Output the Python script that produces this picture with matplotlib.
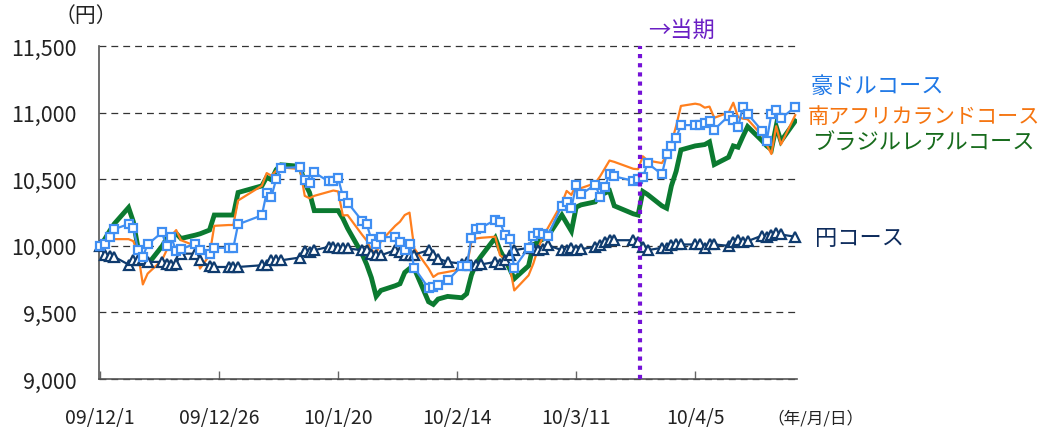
import matplotlib
matplotlib.use('Agg')
import matplotlib.pyplot as plt
import pandas as pd

plt.rcParams['font.family'] = ['Noto Sans CJK JP', 'DejaVu Sans']

# ---------------- data ----------------
days_2009_12 = [1, 2, 3, 4, 7, 8, 9, 10, 11, 14, 15, 16, 17, 18, 21, 22, 24, 25, 28, 29, 30]
days_2010_01 = [4, 5, 6, 7, 8, 12, 13, 14, 15, 18, 19, 20, 21, 22, 25, 26, 27, 28, 29]
days_2010_02 = [1, 2, 3, 4, 5, 8, 9, 10, 12, 15, 16, 17, 18, 19, 22, 23, 24, 25, 26]
days_2010_03 = [1, 2, 3, 4, 5, 8, 9, 10, 11, 12, 15, 16, 17, 18, 19, 23, 24, 25, 26, 29, 30, 31]
days_2010_04 = [1, 2, 5, 6, 7, 8, 9, 12, 13, 14, 15, 16, 19, 20, 21, 22, 23, 26]

aud_course = [
    10000, 10010, 10063, 10125, 10163, 10131, 9972, 9919, 10010, 10100, 9995, 10063, 9959, 9974, 10017, 9967, 9942, 9985, 9985, 9985, 10161,
    10229, 10400, 10370, 10501, 10584, 10591, 10491, 10470, 10551, 10483, 10483, 10508, 10374, 10325, 10189, 10163, 10048, 10017, 10063,
    10068, 10030, 9967, 10017, 9834, 9683, 9693, 9703, 9740, 9849, 9849, 10055, 10123, 10136, 10193, 10181, 10080, 10050, 9834,
    9985, 10075, 10093, 10085, 10075, 10302, 10327, 10282, 10458, 10387, 10458, 10370, 10438, 10538, 10521, 10488, 10500, 10513, 10621, 10536, 10686, 10747,
    10810, 10906, 10906, 10906, 10923, 10935, 10873, 10974, 10948, 10891, 11042, 10991, 10865, 10785, 10991, 11016, 10956, 11042,
]
zar_course = [
    10000, 10030, 10050, 10050, 10050, 10035, 9942, 9710, 9791, 9891, 9967, 10076, 10118, 10042, 10000, 9829, 9929, 10150, 10156, 10156, 10340,
    10451, 10546, 10526, 10564, 10589, 10576, 10375, 10357, 10375, 10405, 10415, 10408, 10228, 10230, 10085, 10040, 9967, 9942, 10035,
    10150, 10181, 10231, 10249, 9980, 9830, 9766, 9791, 9804, 9825, 9841, 10030, 10055, 10060, 10068, 9929, 9904, 9854, 9665,
    9778, 9866, 9980, 10068, 10130, 10319, 10412, 10382, 10463, 10433, 10470, 10520, 10580, 10640, 10630, 10578, 10575, 10672, 10640, 10621, 10680, 10772,
    10900, 11050, 11067, 11060, 11037, 11045, 10961, 11000, 11074, 10966, 10955, 10950, 10830, 10760, 10689, 10898, 10760, 10981,
]
brl_course = [
    10000, 10050, 10110, 10165, 10287, 10181, 9980, 9879, 9859, 9995, 10055, 10075, 10093, 10055, 10080, 10090, 10118, 10231, 10231, 10231, 10400,
    10450, 10515, 10495, 10571, 10608, 10597, 10470, 10400, 10264, 10264, 10264, 10264, 10206, 10131, 9942, 9860, 9760, 9620, 9665,
    9700, 9715, 9800, 9829, 9829, 9580, 9560, 9600, 9620, 9610, 9640, 9780, 9870, 9920, 10060, 9967, 9900, 9830, 9753,
    9850, 10005, 10030, 10050, 10068, 10231, 10170, 10110, 10290, 10307, 10330, 10382, 10395, 10412, 10300, 10240, 10231, 10408, 10385, 10300, 10282, 10450,
    10560, 10720, 10750, 10755, 10760, 10780, 10610, 10665, 10750, 10740, 10820, 10895, 10790, 10750, 10722, 10898, 10785, 10936,
]
jpy_course = [
    10000, 9929, 9925, 9917, 9859, 9891, 9895, 9899, 9879, 9879, 9866, 9859, 9866, 9941, 9941, 9891, 9845, 9841, 9841, 9841, 9841,
    9854, 9854, 9897, 9897, 9891, 9912, 9962, 9955, 9967, 9992, 9992, 9980, 9980, 9980, 9967, 9967, 9942, 9929, 9929,
    9967, 9955, 9934, 9934, 9934, 9967, 9929, 9904, 9879, 9866, 9879, 9856, 9854, 9860, 9879, 9866, 9891, 9929, 9967,
    9985, 9980, 9967, 9975, 10005, 9967, 9967, 9980, 9967, 9975, 9992, 10005, 10030, 10042, 10042, 10042, 10030, 9990, 9967, 9985, 9985, 10005,
    10010, 10010, 10010, 10010, 9985, 10010, 10010, 10000, 10025, 10042, 10025, 10035, 10076, 10068, 10080, 10093, 10085, 10068,
]

series_labels = ['豪ドルコース', '南アフリカランドコース', 'ブラジルレアルコース', '円コース']
tick_dates = ['2009-12-01', '2009-12-26', '2010-01-20', '2010-02-14', '2010-03-11', '2010-04-05']
tick_labels = ['09/12/1', '09/12/26', '10/1/20', '10/2/14', '10/3/11', '10/4/5']
y_ticks = [9000, 9500, 10000, 10500, 11000, 11500]
y_tick_labels = ['9,000', '9,500', '10,000', '10,500', '11,000', '11,500']
current_period = pd.Timestamp('2010-03-24 10:00')

dates = ([pd.Timestamp(2009, 12, d) for d in days_2009_12] +
         [pd.Timestamp(2010, 1, d) for d in days_2010_01] +
         [pd.Timestamp(2010, 2, d) for d in days_2010_02] +
         [pd.Timestamp(2010, 3, d) for d in days_2010_03] +
         [pd.Timestamp(2010, 4, d) for d in days_2010_04])

# ---------------- figure ----------------
fig = plt.figure(figsize=(10.48, 4.35), dpi=100)
ax = fig.add_axes([99 / 1048, 1 - 380 / 435, 698 / 1048, 333 / 435])

c_blue = '#3F8EF2'
c_orange = '#FF7F1E'
c_green = '#0B7A30'
c_navy = '#0F3B6E'
c_purple = '#7412D6'

ax.plot(dates, brl_course, color=c_green, lw=3.5, zorder=3, solid_joinstyle='miter')
ax.plot(dates, zar_course, color=c_orange, lw=1.6, zorder=4)
ax.plot(dates, jpy_course, color=c_navy, lw=1.6, marker='^', ms=6.5, mfc='white',
        mec=c_navy, mew=1.6, zorder=5, clip_on=False)
ax.plot(dates, aud_course, color=c_blue, lw=1.6, marker='s', ms=5.5, mfc='white',
        mec=c_blue, mew=1.6, zorder=6, clip_on=False)

ax.axvline(current_period, color=c_purple, lw=3, linestyle=(0, (1, 1.2)), zorder=7)

ax.set_ylim(9000, 11500)
ax.set_xlim(pd.Timestamp('2009-12-01') - pd.Timedelta(hours=5),
            pd.Timestamp('2010-04-26') + pd.Timedelta(hours=9))

ax.set_yticks(y_ticks)
ax.set_yticklabels(y_tick_labels)
ax.set_xticks(pd.to_datetime(tick_dates))
ax.set_xticklabels(tick_labels)

ax.yaxis.grid(True, color='#333333', lw=0.9, linestyle=(0, (5.5, 4)))
for gl in ax.get_ygridlines():
    gl.set_clip_on(False)
ax.set_axisbelow(True)

for s in ['top', 'right']:
    ax.spines[s].set_visible(False)
for s in ['left', 'bottom']:
    ax.spines[s].set_color('#555555')
    ax.spines[s].set_linewidth(1.2)

ax.tick_params(axis='y', length=0, pad=16, labelsize=15.5, labelcolor='#222222')
ax.tick_params(axis='x', direction='in', length=6, width=1, color='#666666',
               pad=20, labelsize=14, labelcolor='#222222')

fig.text(86 / 1048, 1 - 16 / 435, '（円）', ha='center', va='center', fontsize=15, color='#222222')
fig.text(815 / 1048, 1 - 419 / 435, '（年/月/日）', ha='center', va='center', fontsize=12, color='#222222')
fig.text(648 / 1048, 1 - 30 / 435, '→当期', ha='left', va='center', fontsize=16, color='#6A1FC4')

fig.text(811 / 1048, 1 - 86 / 435, series_labels[0], ha='left', va='center', fontsize=16, color='#1F78E6')
fig.text(808 / 1048, 1 - 117 / 435, series_labels[1], ha='left', va='center', fontsize=15.2, color='#F5740F')
fig.text(812 / 1048, 1 - 143 / 435, series_labels[2], ha='left', va='center', fontsize=16, color='#176B1C')
fig.text(815 / 1048, 1 - 239 / 435, series_labels[3], ha='left', va='center', fontsize=16, color='#0D2B5C')

fig.savefig('out.png', dpi=100)
